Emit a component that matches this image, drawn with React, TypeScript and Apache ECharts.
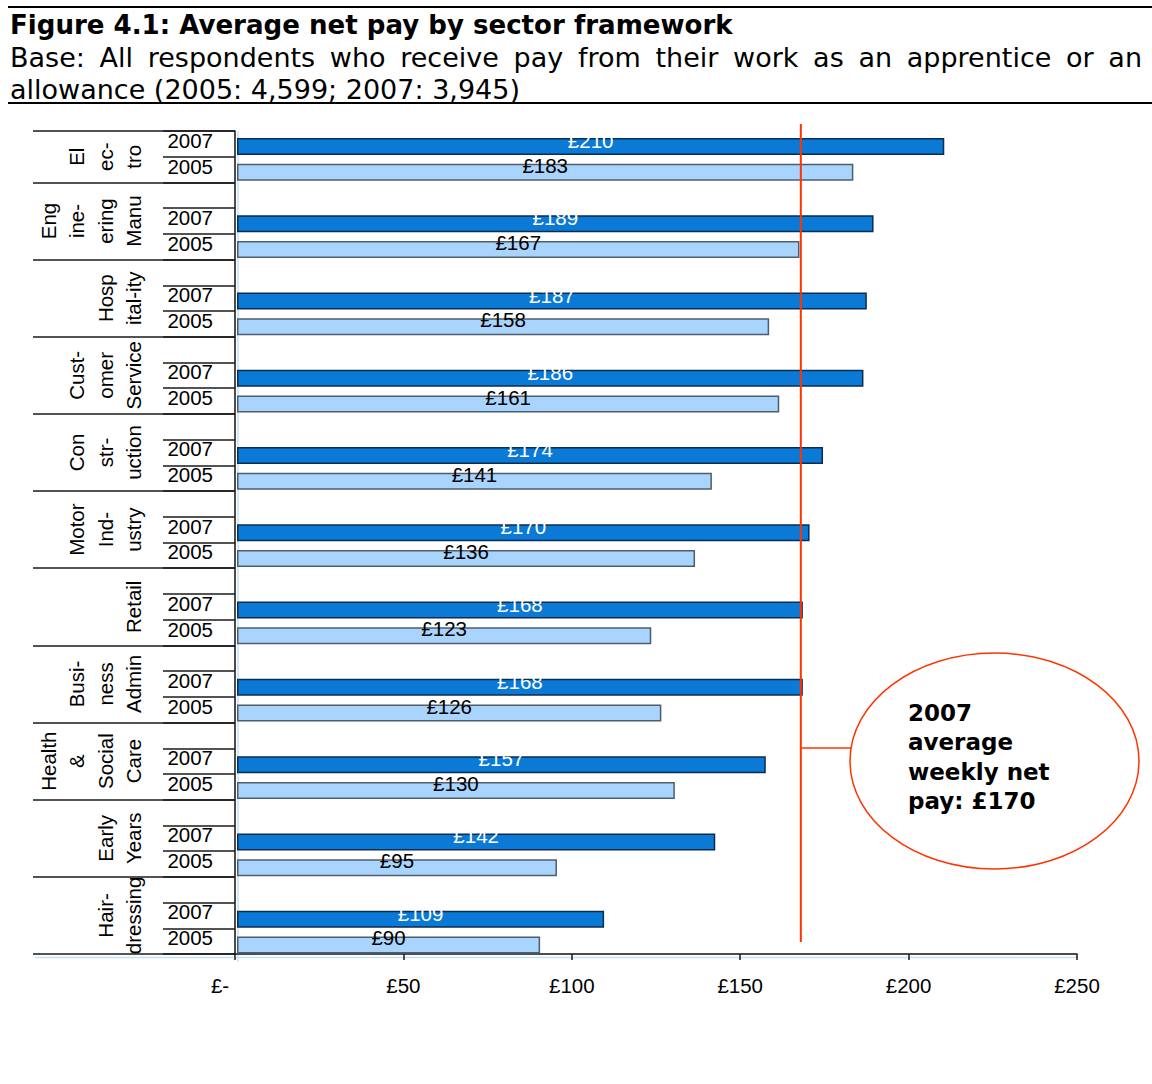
import React, { useEffect, useRef } from 'react';
import * as echarts from 'echarts';

const titleText = 'Figure 4.1: Average net pay by sector framework';
const baseLine1 = 'Base: All respondents who receive pay from their work as an apprentice or an';
const baseLine2 = 'allowance (2005: 4,599; 2007: 3,945)';

const sectorLabelLines: string[][] = [
  ['El', 'ec-', 'tro'],
  ['Eng', 'ine-', 'ering', 'Manu'],
  ['Hosp', 'ital-ity'],
  ['Cust-', 'omer', 'Service'],
  ['Con', 'str-', 'uction'],
  ['Motor', 'Ind-', 'ustry'],
  ['Retail'],
  ['Busi-', 'ness', 'Admin'],
  ['Health', '&', 'Social', 'Care'],
  ['Early', 'Years'],
  ['Hair-', 'dressing'],
];
const years = ['2007', '2005'];
const pay2007 = [210, 189, 187, 186, 174, 170, 168, 168, 157, 142, 109];
const pay2005 = [183, 167, 158, 161, 141, 136, 123, 126, 130, 95, 90];
const xTicks = [0, 50, 100, 150, 200, 250];
const avgMarkerValue = 168;
const avgNoteLines = ['2007', 'average', 'weekly net', 'pay: £170'];

const ARIAL = '"Liberation Sans", Arial, sans-serif';
const VERDANA = '"DejaVu Sans", Verdana, sans-serif';
const C2007 = '#0a7ad6';
const B2007 = '#0b2d50';
const C2005 = '#a8d4fd';
const B2005 = '#4e5d6c';
const RED = '#ff3300';
const GHOST = '#c6e2f7';
const LABEL_FS = 20.5;

function buildSlots() {
  const keys: string[] = [];
  sectorLabelLines.forEach((_, g) => {
    if (g > 0) keys.push(`${g}|`);
    years.forEach((y) => keys.push(`${g}|${y}`));
  });
  return keys;
}

export default function App() {
  const ref = useRef<HTMLDivElement>(null);

  useEffect(() => {
    const el = ref.current;
    if (!el) return;
    const chart = echarts.init(el, null, { renderer: 'svg' });
    const slotKeys = buildSlots();
    const seriesData = (year: string, values: number[]) =>
      slotKeys.map((k) => {
        const [g, y] = k.split('|');
        return y === year ? values[+g] : '-';
      });

    const tickStyle = { color: '#1a1a1a', width: 1.5 };

    const option: any = {
      animation: false,
      backgroundColor: '#ffffff',
      grid: [
        { left: 235, right: 75, top: 131, bottom: 130, outerBoundsMode: 'none' },
        { left: 237, right: 73, top: 133.6, bottom: 126.2, outerBoundsMode: 'none' },
      ],
      xAxis: [
        {
          type: 'value',
          gridIndex: 0,
          min: xTicks[0],
          max: xTicks[xTicks.length - 1],
          interval: xTicks[1] - xTicks[0],
          splitLine: { show: false },
          axisLine: { show: true, lineStyle: { color: '#111', width: 1.5 } },
          axisTick: { show: true, length: 6, lineStyle: tickStyle },
          axisLabel: {
            margin: 21,
            fontSize: LABEL_FS,
            fontFamily: ARIAL,
            color: '#000',
            formatter: (v: number) => (v === 0 ? '{z|£-}' : '£' + v),
            rich: {
              z: { padding: [0, 30, 0, 0], fontSize: LABEL_FS, fontFamily: ARIAL, color: '#000' },
            },
          },
        },
        {
          type: 'value',
          gridIndex: 1,
          min: xTicks[0],
          max: xTicks[xTicks.length - 1],
          show: false,
        },
      ],
      yAxis: [
        {
          type: 'category',
          gridIndex: 0,
          position: 'left',
          inverse: true,
          data: slotKeys,
          axisLine: { show: true, lineStyle: { color: '#111', width: 1.5 } },
          axisTick: { show: true, interval: 0, length: 72, lineStyle: tickStyle },
          axisLabel: {
            interval: 0,
            margin: 22,
            fontSize: LABEL_FS,
            fontFamily: ARIAL,
            color: '#000',
            formatter: (v: string) => {
              const y = v.split('|')[1];
              return y ? '{y|' + y + '}' : '';
            },
            rich: {
              y: { padding: [0, 0, 7, 0], fontSize: LABEL_FS, fontFamily: ARIAL, color: '#000' },
            },
          },
        },
        {
          type: 'category',
          gridIndex: 0,
          position: 'left',
          inverse: true,
          data: slotKeys,
          axisLine: { show: false },
          axisTick: {
            show: true,
            interval: (i: number) => i === 0 || slotKeys[i].endsWith('|'),
            length: 202,
            lineStyle: tickStyle,
          },
          axisLabel: { show: false },
        },
        {
          type: 'category',
          gridIndex: 1,
          inverse: true,
          data: slotKeys,
          show: false,
        },
      ],
      series: [
        {
          type: 'bar',
          name: '2007',
          xAxisIndex: 1,
          yAxisIndex: 2,
          data: seriesData('2007', pay2007),
          barWidth: 17,
          barGap: '-100%',
          itemStyle: { color: C2007, borderColor: B2007, borderWidth: 1.5 },
          label: {
            show: true,
            position: 'inside',
            offset: [0, -6],
            color: '#ffffff',
            fontSize: LABEL_FS,
            fontFamily: ARIAL,
            formatter: (p: any) => '£' + p.value,
          },
        },
        {
          type: 'bar',
          name: '2005',
          xAxisIndex: 1,
          yAxisIndex: 2,
          data: seriesData('2005', pay2005),
          barWidth: 17,
          barGap: '-100%',
          itemStyle: { color: C2005, borderColor: B2005, borderWidth: 1.5 },
          label: {
            show: true,
            position: 'inside',
            offset: [0, -7],
            color: '#000000',
            fontSize: LABEL_FS,
            fontFamily: ARIAL,
            formatter: (p: any) => '£' + p.value,
          },
        },
      ],
    };

    chart.setOption(option);

    // --- measured header text
    const ctx = document.createElement('canvas').getContext('2d') as CanvasRenderingContext2D;
    const measure = (t: string, font: string) => {
      ctx.font = font;
      return ctx.measureText(t).width;
    };
    const titleSize = Math.max(20, Math.min(30, (26 * 723) / measure(titleText, 'bold 26px "DejaVu Sans"')));
    const subSize = Math.max(20, Math.min(30, (26 * 510) / measure(baseLine2, '26px "DejaVu Sans"')));
    const words = baseLine1.split(' ');
    const subFont = `${subSize}px "DejaVu Sans"`;
    const wordWidths = words.map((w) => measure(w, subFont));
    const totalW = wordWidths.reduce((a, b) => a + b, 0);
    const gap = (1142 - 10 - totalW) / (words.length - 1);
    let wx = 10;
    const wordEls: any[] = words.map((w, i) => {
      const e = {
        type: 'text',
        x: wx,
        y: 57,
        style: { text: w, fontSize: subSize, fontFamily: VERDANA, fill: '#000', align: 'left', verticalAlign: 'middle' },
      };
      wx += wordWidths[i] + gap;
      return e;
    });

    // --- positions from axes
    const py = (i: number) => chart.convertToPixel({ yAxisIndex: 0 } as any, i) as unknown as number;
    const px = (v: number) => chart.convertToPixel({ xAxisIndex: 0 } as any, v) as unknown as number;
    const band = py(1) - py(0);
    const sectorEls = sectorLabelLines.map((lines, g) => {
      const first = slotKeys.indexOf(g === 0 ? `0|${years[0]}` : `${g}|`);
      const last = slotKeys.indexOf(`${g}|${years[1]}`);
      const cy = (py(first) - band / 2 + py(last) + band / 2) / 2;
      return {
        type: 'text',
        x: 148,
        y: cy,
        rotation: Math.PI / 2,
        style: {
          text: lines.join('\n'),
          fontSize: LABEL_FS,
          fontFamily: ARIAL,
          fill: '#000',
          align: 'center',
          verticalAlign: 'bottom',
          lineHeight: 28.5,
        },
      };
    });

    const x0 = px(xTicks[0]);
    const xEnd = px(xTicks[xTicks.length - 1]);
    const xAvg = px(avgMarkerValue);

    const graphic: any[] = [
      { type: 'line', shape: { x1: 8, y1: 7, x2: 1152, y2: 7 }, style: { stroke: '#000', lineWidth: 2 } },
      { type: 'line', shape: { x1: 8, y1: 103, x2: 1152, y2: 103 }, style: { stroke: '#000', lineWidth: 2 } },
      {
        type: 'text',
        x: 10,
        y: 25,
        style: { text: titleText, fontSize: titleSize, fontWeight: 'bold', fontFamily: VERDANA, fill: '#000', align: 'left', verticalAlign: 'middle' },
      },
      ...wordEls,
      {
        type: 'text',
        x: 10,
        y: 89,
        style: { text: baseLine2, fontSize: subSize, fontFamily: VERDANA, fill: '#000', align: 'left', verticalAlign: 'middle' },
      },
      { type: 'line', z: -1, shape: { x1: x0 + 3, y1: 131, x2: x0 + 3, y2: 962 }, style: { stroke: GHOST, lineWidth: 1.5 } },
      { type: 'line', z: -1, shape: { x1: 35, y1: 957.5, x2: xEnd, y2: 957.5 }, style: { stroke: GHOST, lineWidth: 1.5 } },
      ...sectorEls,
      { type: 'line', z: 50, shape: { x1: xAvg, y1: 124, x2: xAvg, y2: 942 }, style: { stroke: RED, lineWidth: 2 } },
      { type: 'line', z: 50, shape: { x1: xAvg, y1: 748, x2: 851, y2: 748 }, style: { stroke: RED, lineWidth: 1.5 } },
      {
        type: 'ellipse',
        z: 50,
        shape: { cx: 994.5, cy: 761, rx: 144.5, ry: 108 },
        style: { fill: '#fff', stroke: RED, lineWidth: 1.5 },
      },
      {
        type: 'text',
        z: 51,
        x: 908,
        y: 698.5,
        style: {
          text: avgNoteLines.join('\n'),
          fontSize: 23,
          fontWeight: 'bold',
          fontFamily: VERDANA,
          fill: '#000',
          align: 'left',
          verticalAlign: 'top',
          lineHeight: 29.3,
        },
      },
    ];

    chart.setOption({ graphic });

    return () => chart.dispose();
  }, []);

  return (
    <div
      ref={ref}
      style={{ position: 'fixed', left: 0, top: 0, width: 1152, height: 1084, background: '#fff' }}
    />
  );
}
